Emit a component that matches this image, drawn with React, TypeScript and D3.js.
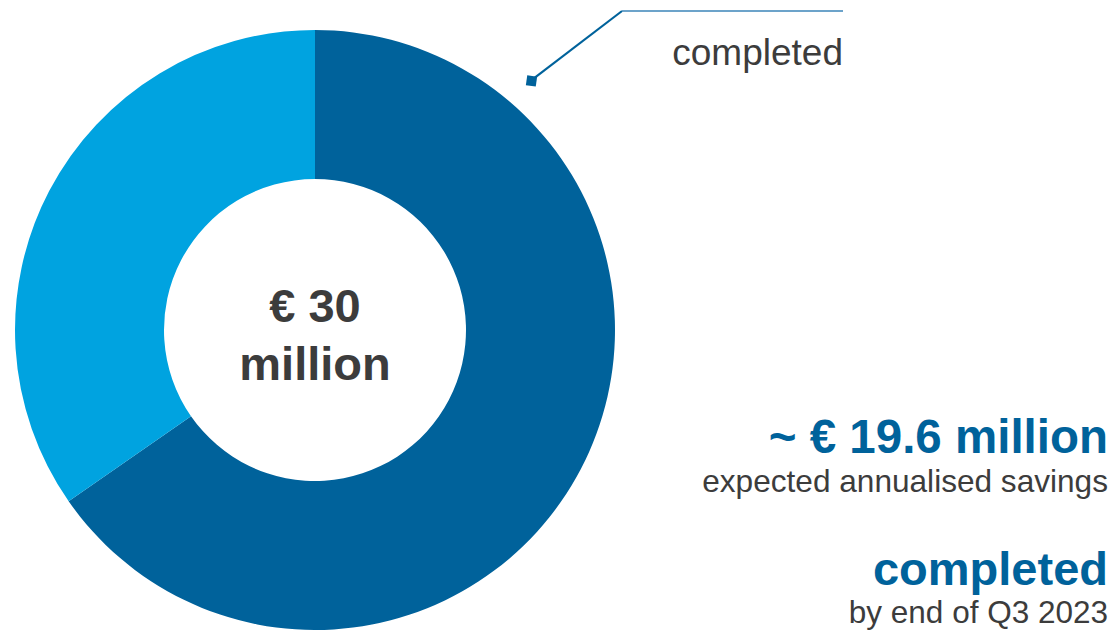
import React from "react";
import * as d3 from "d3";

const categories = ["completed", "remaining"];
const values = [19.6, 10.4];
const centerLines = ["€ 30", "million"];
const sideTitle1 = "~ € 19.6 million";
const sideSub1 = "expected annualised savings";
const sideTitle2 = "completed";
const sideSub2 = "by end of Q3 2023";
const calloutLabel = "completed";

const W = 1116;
const H = 631;
const FONT = "'Liberation Sans', Arial, sans-serif";
const DARK = "#00629B";
const LIGHT = "#00A3E0";
const GREY = "#3c3c3c";

export default function App() {
  const cx = 315;
  const cy = 330;
  const outerR = 300;
  const innerR = 151;
  const pie = d3.pie<number>().sort(null).startAngle(0).endAngle(2 * Math.PI);
  const arcs = pie(values);
  const arc = d3.arc<d3.PieArcDatum<number>>().innerRadius(innerR).outerRadius(outerR);
  const color = d3.scaleOrdinal<string, string>().domain(categories).range([DARK, LIGHT]);

  // callout: marker just outside the ring at ~41° clockwise from top
  const calloutAngle = (41 * Math.PI) / 180;
  const mR = 330;
  const mx = cx + mR * Math.sin(calloutAngle);
  const my = cy - mR * Math.cos(calloutAngle);
  const elbowX = 622;
  const elbowY = 11;
  const endX = 843;

  const rightX = 1108;

  return (
    <svg
      width={W}
      height={H}
      style={{ position: "absolute", left: 0, top: 0, background: "#fff" }}
      fontFamily={FONT}
    >
      <g transform={`translate(${cx},${cy})`}>
        {arcs.map((a, i) => (
          <path key={i} d={arc(a) || ""} fill={color(categories[i])} />
        ))}
        <text textAnchor="middle" fill={GREY} fontWeight="bold" fontSize={47}>
          <tspan x={0} y={-8}>{centerLines[0]}</tspan>
          <tspan x={0} y={50}>{centerLines[1]}</tspan>
        </text>
      </g>

      <polyline
        points={`${mx + 3},${my - 3} ${elbowX},${elbowY}`}
        fill="none"
        stroke={DARK}
        strokeWidth={2.2}
      />
      <line x1={elbowX} y1={elbowY} x2={endX} y2={elbowY} stroke="#3b84b8" strokeWidth={1.5} />
      <rect
        x={mx - 5}
        y={my - 5}
        width={10}
        height={10}
        fill={DARK}
        transform={`rotate(8 ${mx} ${my})`}
      />
      <text x={endX} y={65} textAnchor="end" fill={GREY} fontSize={37}>
        {calloutLabel}
      </text>

      <text x={rightX} y={453} textAnchor="end" fill={DARK} fontWeight="bold" fontSize={47.5}>
        {sideTitle1}
      </text>
      <text x={rightX} y={492} textAnchor="end" fill={GREY} fontSize={31.6}>
        {sideSub1}
      </text>
      <text x={rightX} y={585} textAnchor="end" fill={DARK} fontWeight="bold" fontSize={47}>
        {sideTitle2}
      </text>
      <text x={rightX} y={623} textAnchor="end" fill={GREY} fontSize={31.5}>
        {sideSub2}
      </text>
    </svg>
  );
}
